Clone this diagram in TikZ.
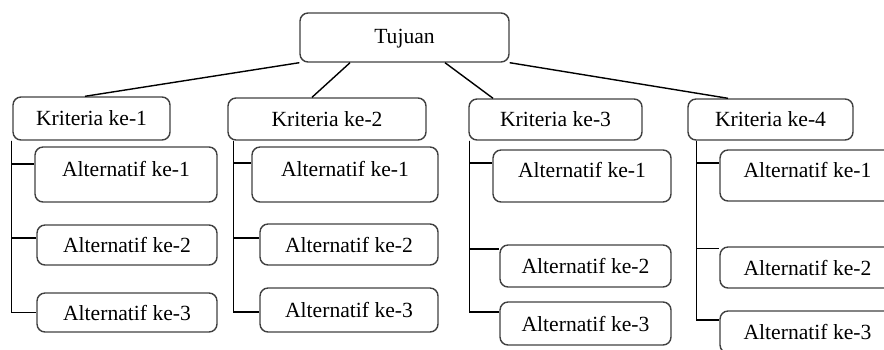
\documentclass[tikz,border=0pt]{standalone}
\usepackage{fontspec}
\setmainfont{Liberation Serif}
\tikzset{
	kotak/.style={draw=black!75, line width=0.8pt, rounded corners=0.16cm, inner sep=0pt, font=\fontsize{12.3}{14}\selectfont},
	kotaktinggi/.style={kotak, text depth=0.24cm},
	garis/.style={draw=black, line width=0.8pt}
}
\begin{document}
\begin{tikzpicture}[x=0.02cm, y=-0.02cm]
		\useasboundingbox (0,0) rectangle (884,349);

		\node[kotak, minimum width=4.18cm, minimum height=0.98cm, text depth=0.05cm] (tujuan) at (404.5,37.5) {Tujuan};

		\node[kotak, minimum width=3.14cm, minimum height=0.86cm] (k1) at (91.5,118.5) {Kriteria ke-1};
		\node[kotak, minimum width=3.96cm, minimum height=0.84cm] (k2) at (327,119) {Kriteria ke-2};
		\node[kotak, minimum width=3.46cm, minimum height=0.82cm] (k3) at (555.5,119.5) {Kriteria ke-3};
		\node[kotak, minimum width=3.30cm, minimum height=0.82cm] (k4) at (770.5,119.5) {Kriteria ke-4};

		\node[kotaktinggi, minimum width=3.64cm, minimum height=1.10cm] (a11) at (126,174.5) {Alternatif ke-1};
		\node[kotak, minimum width=3.60cm, minimum height=0.80cm] (a12) at (127,245) {Alternatif ke-2};
		\node[kotak, minimum width=3.60cm, minimum height=0.78cm] (a13) at (127,312.5) {Alternatif ke-3};

		\node[kotaktinggi, minimum width=3.72cm, minimum height=1.10cm] (a21) at (345,174.5) {Alternatif ke-1};
		\node[kotak, minimum width=3.56cm, minimum height=0.82cm] (a22) at (349,244.5) {Alternatif ke-2};
		\node[kotak, minimum width=3.56cm, minimum height=0.88cm] (a23) at (349,310) {Alternatif ke-3};

		\node[kotaktinggi, minimum width=3.56cm, minimum height=1.04cm] (a31) at (582,176) {Alternatif ke-1};
		\node[kotak, minimum width=3.42cm, minimum height=0.84cm] (a32) at (585.5,266) {Alternatif ke-2};
		\node[kotak, minimum width=3.42cm, minimum height=0.86cm] (a33) at (585.5,323.5) {Alternatif ke-3};

		\node[kotaktinggi, minimum width=3.50cm, minimum height=1.02cm] (a41) at (807.5,175.5) {Alternatif ke-1};
		\node[kotak, minimum width=3.50cm, minimum height=0.82cm] (a42) at (807.5,267.5) {Alternatif ke-2};
		\node[kotak, minimum width=3.50cm, minimum height=0.84cm] (a43) at (807.5,332) {Alternatif ke-3};

		\draw[garis] (tujuan.south west) -- ([xshift=-0.13cm]k1.north);
		\draw[garis] ([xshift=-1.09cm]tujuan.south) -- ([xshift=-0.30cm]k2.north);
		\draw[garis] ([xshift=0.81cm]tujuan.south) -- ([xshift=-1.25cm]k3.north);
		\draw[garis] (tujuan.south east) -- ([xshift=-0.85cm]k4.north);

		\coordinate (t1) at ([xshift=-0.02cm]k1.south west);
		\coordinate (t2) at ([xshift=0.12cm]k2.south west);
		\coordinate (t3) at ([xshift=0.02cm]k3.south west);
		\coordinate (t4) at ([xshift=0.18cm]k4.south west);

		\draw[garis] (t1) |- ([yshift=0.21cm]a11.west);
		\draw[garis] (t1) |- ([yshift=0.14cm]a12.west);
		\draw[garis] (t1) |- (a13.west);

		\draw[garis] (t2) |- ([yshift=0.23cm]a21.west);
		\draw[garis] (t2) |- ([yshift=0.13cm]a22.west);
		\draw[garis] (t2) |- ([yshift=-0.04cm]a23.west);

		\draw[garis] (t3) |- ([yshift=0.26cm]a31.west);
		\draw[garis] (t3) |- ([yshift=0.34cm]a32.west);
		\draw[garis] (t3) |- ([yshift=0.23cm]a33.west);

		\draw[garis] (t4) |- ([yshift=0.25cm]a41.west);
		\draw[garis] (t4) |- ([yshift=0.38cm]a42.west);
		\draw[garis] (t4) |- ([yshift=0.24cm]a43.west);
	\end{tikzpicture}
\end{document}
